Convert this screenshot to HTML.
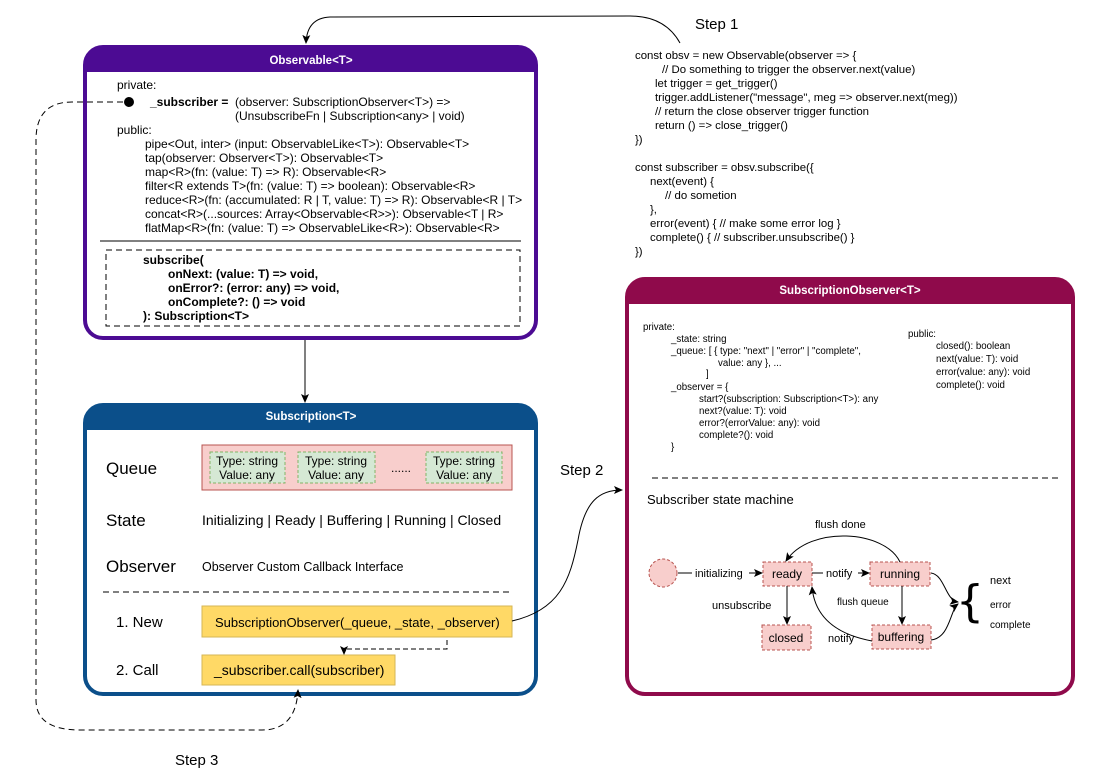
<!DOCTYPE html>
<html><head><meta charset="utf-8"><style>
html,body{margin:0;padding:0;background:#fff;}
svg{display:block;font-family:"Liberation Sans",Arial,sans-serif;}
</style></head><body>
<svg width="1099" height="784" viewBox="0 0 1099 784" xmlns="http://www.w3.org/2000/svg">
<defs>
<marker id="ar" markerWidth="10" markerHeight="10" refX="8" refY="5" orient="auto" markerUnits="userSpaceOnUse"><path d="M0,1 L9,5 L0,9 L2,5 z" fill="#000"/></marker>
</defs>

<!-- Observable box -->
<rect x="85" y="47" width="451" height="291" rx="18" fill="#fff" stroke="#4c0b93" stroke-width="4"/>
<path d="M85,72 L85,65 Q85,47 103,47 L518,47 Q536,47 536,65 L536,72 Z" fill="#4c0b93"/>
<text x="311" y="64" fill="#fff" font-size="11.5" font-weight="600" text-anchor="middle">Observable&lt;T&gt;</text>
<g font-size="12" fill="#000">
<text x="117" y="89">private:</text>
<text x="150" y="106" font-weight="bold">_subscriber =</text>
<text x="235" y="106">(observer: SubscriptionObserver&lt;T&gt;) =&gt;</text>
<text x="235" y="120">(UnsubscribeFn | Subscription&lt;any&gt; | void)</text>
<text x="117" y="134">public:</text>
<text x="145" y="148">pipe&lt;Out, inter&gt; (input: ObservableLike&lt;T&gt;): Observable&lt;T&gt;</text>
<text x="145" y="162">tap(observer: Observer&lt;T&gt;): Observable&lt;T&gt;</text>
<text x="145" y="176">map&lt;R&gt;(fn: (value: T) =&gt; R): Observable&lt;R&gt;</text>
<text x="145" y="190">filter&lt;R extends T&gt;(fn: (value: T) =&gt; boolean): Observable&lt;R&gt;</text>
<text x="145" y="204">reduce&lt;R&gt;(fn: (accumulated: R | T, value: T) =&gt; R): Observable&lt;R | T&gt;</text>
<text x="145" y="218">concat&lt;R&gt;(...sources: Array&lt;Observable&lt;R&gt;&gt;): Observable&lt;T | R&gt;</text>
<text x="145" y="232">flatMap&lt;R&gt;(fn: (value: T) =&gt; ObservableLike&lt;R&gt;): Observable&lt;R&gt;</text>
</g>
<circle cx="129" cy="102" r="5" fill="#000"/>
<line x1="100" y1="241" x2="521" y2="241" stroke="#000" stroke-width="1"/>
<rect x="106" y="250" width="414" height="76" fill="none" stroke="#000" stroke-dasharray="6,4"/>
<g font-size="12" font-weight="bold">
<text x="143" y="264">subscribe(</text>
<text x="168" y="278">onNext: (value: T) =&gt; void,</text>
<text x="168" y="292">onError?: (error: any) =&gt; void,</text>
<text x="168" y="306">onComplete?: () =&gt; void</text>
<text x="143" y="320">): Subscription&lt;T&gt;</text>
</g>

<!-- Subscription box -->
<rect x="85" y="405" width="451" height="289" rx="18" fill="#fff" stroke="#0b4f8a" stroke-width="4"/>
<path d="M85,430 L85,423 Q85,405 103,405 L518,405 Q536,405 536,423 L536,430 Z" fill="#0b4f8a"/>
<text x="311" y="420" fill="#fff" font-size="11.5" font-weight="600" text-anchor="middle">Subscription&lt;T&gt;</text>
<text x="106" y="474" font-size="17">Queue</text>
<rect x="202" y="445" width="310" height="45" fill="#f8cecc" stroke="#b85450"/>
<g font-size="12" text-anchor="middle">
<rect x="210" y="452" width="75" height="31" fill="#d5e8d4" stroke="#82b366" stroke-dasharray="3,2"/>
<text x="247" y="465">Type: string</text><text x="247" y="479">Value: any</text>
<rect x="298" y="452" width="77" height="31" fill="#d5e8d4" stroke="#82b366" stroke-dasharray="3,2"/>
<text x="336" y="465">Type: string</text><text x="336" y="479">Value: any</text>
<rect x="426" y="452" width="76" height="31" fill="#d5e8d4" stroke="#82b366" stroke-dasharray="3,2"/>
<text x="464" y="465">Type: string</text><text x="464" y="479">Value: any</text>
<text x="401" y="472">......</text>
</g>
<text x="106" y="526" font-size="17">State</text>
<text x="202" y="525" font-size="14">Initializing |  Ready | Buffering | Running | Closed</text>
<text x="106" y="572" font-size="17">Observer</text>
<text x="202" y="571" font-size="12.5">Observer Custom Callback Interface</text>
<line x1="103" y1="592" x2="512" y2="592" stroke="#000" stroke-dasharray="6,4"/>
<text x="116" y="627" font-size="15">1.  New</text>
<rect x="202" y="606" width="310" height="31" fill="#ffd966" stroke="#d6b656"/>
<text x="215" y="627" font-size="13">SubscriptionObserver(_queue, _state, _observer)</text>
<text x="116" y="675" font-size="15">2.  Call</text>
<rect x="202" y="655" width="193" height="30" fill="#ffd966" stroke="#d6b656"/>
<text x="214" y="675" font-size="14">_subscriber.call(subscriber)</text>
<path d="M447,640 L447,649 L344,649 L344,654" fill="none" stroke="#000" stroke-dasharray="5,3" marker-end="url(#ar)"/>

<!-- SubscriptionObserver box -->
<rect x="627" y="279" width="446" height="415" rx="18" fill="#fff" stroke="#8f0a4b" stroke-width="4"/>
<path d="M627,304 L627,297 Q627,279 645,279 L1055,279 Q1073,279 1073,297 L1073,304 Z" fill="#8f0a4b"/>
<text x="850" y="294" fill="#fff" font-size="11.5" font-weight="600" text-anchor="middle">SubscriptionObserver&lt;T&gt;</text>
<g font-size="9.7">
<text x="643" y="330">private:</text>
<text x="671" y="342">_state: string</text>
<text x="671" y="354">_queue: [ { type: "next" | "error" | "complete",</text>
<text x="718" y="366">value: any }, ...</text>
<text x="706" y="377">]</text>
<text x="671" y="390">_observer = {</text>
<text x="699" y="402">start?(subscription: Subscription&lt;T&gt;): any</text>
<text x="699" y="414">next?(value: T): void</text>
<text x="699" y="426">error?(errorValue: any): void</text>
<text x="699" y="438">complete?(): void</text>
<text x="671" y="450">}</text>
<text x="908" y="337">public:</text>
<text x="936" y="349">closed(): boolean</text>
<text x="936" y="362">next(value: T): void</text>
<text x="936" y="375">error(value: any): void</text>
<text x="936" y="388">complete(): void</text>
</g>
<line x1="652" y1="478" x2="1060" y2="478" stroke="#000" stroke-dasharray="6,4"/>
<text x="647" y="504" font-size="13">Subscriber state machine</text>

<!-- state machine -->
<circle cx="663" cy="573" r="14" fill="#f8cecc" stroke="#b85450" stroke-dasharray="3,2"/>
<g fill="#f8cecc" stroke="#b85450" stroke-dasharray="3,2">
<rect x="763" y="562" width="49" height="24"/>
<rect x="870" y="562" width="60" height="24"/>
<rect x="762" y="625" width="49" height="25"/>
<rect x="872" y="625" width="59" height="24"/>
</g>
<g font-size="12" text-anchor="middle">
<text x="787" y="578">ready</text>
<text x="900" y="578">running</text>
<text x="786" y="642">closed</text>
<text x="901" y="641">buffering</text>
</g>
<g font-size="11">
<text x="695" y="577">initializing</text>
<text x="826" y="577">notify</text>
<text x="815" y="528">flush done</text>
<text x="712" y="609">unsubscribe</text>
<text x="837" y="605" font-size="10">flush queue</text>
<text x="828" y="642">notify</text>
<text x="990" y="584">next</text>
<text x="990" y="608" font-size="10">error</text>
<text x="990" y="628" font-size="10">complete</text>
</g>
<text x="956" y="616" font-size="44" font-family="DejaVu Sans, sans-serif">{</text>
<g fill="none" stroke="#000" stroke-width="1">
<line x1="678" y1="573" x2="692" y2="573"/>
<line x1="749" y1="573" x2="762" y2="573" marker-end="url(#ar)"/>
<line x1="812" y1="573" x2="823" y2="573"/>
<line x1="858" y1="573" x2="869" y2="573" marker-end="url(#ar)"/>
<path d="M900,562 C885,530 810,525 786,561" marker-end="url(#ar)"/>
<line x1="787" y1="586" x2="787" y2="624" marker-end="url(#ar)"/>
<line x1="902" y1="586" x2="902" y2="624" marker-end="url(#ar)"/>
<path d="M872,641 C840,635 815,620 812,587" marker-end="url(#ar)"/>
<path d="M931,573 C945,575 945,600 958,602" marker-end="url(#ar)"/>
<path d="M931,640 C950,638 950,610 958,604" marker-end="url(#ar)"/>
</g>

<!-- code text -->
<g font-size="11.4">
<text x="635" y="59">const obsv = new Observable(observer =&gt; {</text>
<text x="662" y="73">// Do something to trigger the observer.next(value)</text>
<text x="655" y="87">let trigger = get_trigger()</text>
<text x="655" y="101">trigger.addListener("message", meg =&gt; observer.next(meg))</text>
<text x="655" y="115">// return the close observer trigger function</text>
<text x="655" y="129">return () =&gt; close_trigger()</text>
<text x="635" y="143">})</text>
<text x="635" y="171">const subscriber = obsv.subscribe({</text>
<text x="650" y="185">next(event) {</text>
<text x="665" y="199">// do sometion</text>
<text x="650" y="213">},</text>
<text x="650" y="227">error(event) { // make some error log  }</text>
<text x="650" y="241">complete() { // subscriber.unsubscribe() }</text>
<text x="635" y="255">})</text>
</g>
<text x="695" y="29" font-size="15">Step 1</text>
<text x="560" y="475" font-size="15">Step 2</text>
<text x="175" y="765" font-size="15">Step 3</text>

<!-- connectors -->
<g fill="none" stroke="#000" stroke-width="1">
<path d="M680,43 Q665,16 630,16 L330,17 Q307,18 306,43" marker-end="url(#ar)"/>
<line x1="305" y1="340" x2="305" y2="402" marker-end="url(#ar)"/>
<path d="M512,621 C560,610 570,580 578,540 C585,500 600,490 622,490" marker-end="url(#ar)"/>
<path d="M123,102 L72,102 Q36,102 36,140 L36,700 Q36,730 80,730 L262,730 Q296,730 298,690" stroke-dasharray="6,4" marker-end="url(#ar)"/>
</g>
</svg>
</body></html>
